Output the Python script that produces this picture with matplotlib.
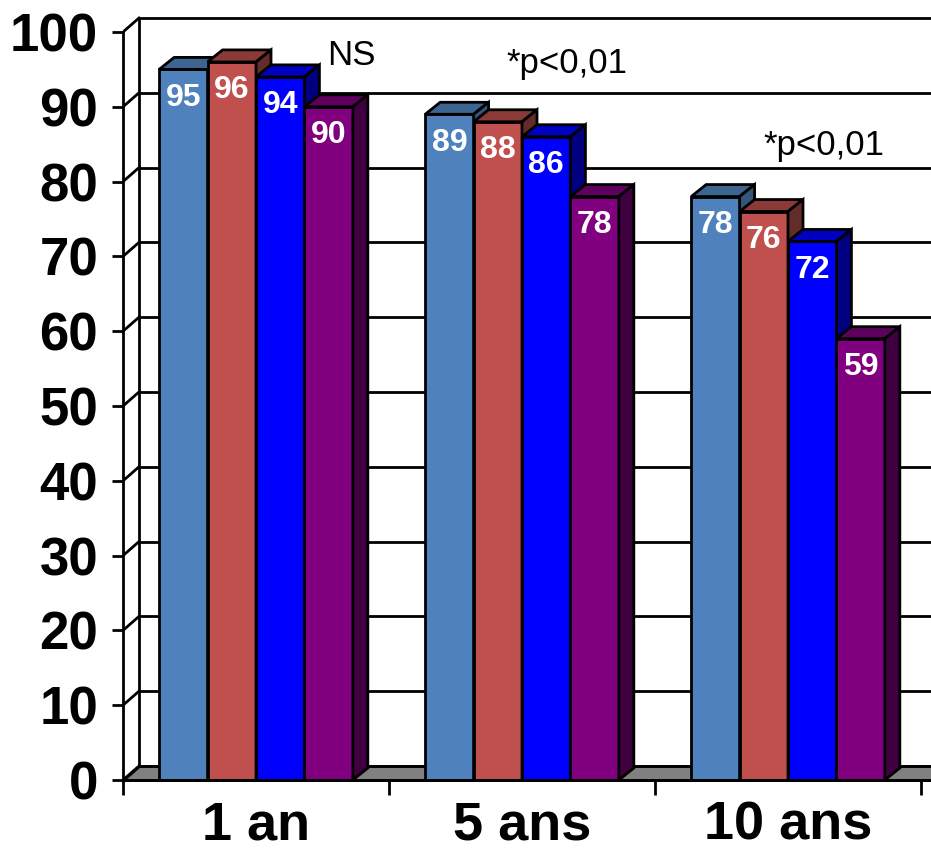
import matplotlib
matplotlib.use("Agg")
import matplotlib.pyplot as plt
from matplotlib.patches import Polygon
import numpy as np

# ---- data ----
categories = ["1 an", "5 ans", "10 ans"]
series_a = [95, 89, 78]   # light blue
series_b = [96, 88, 76]   # red
series_c = [94, 86, 72]   # blue
series_d = [90, 78, 59]   # purple
y_ticks = [0, 10, 20, 30, 40, 50, 60, 70, 80, 90, 100]
annotations = [("NS", 0.767, 95.6), ("*p<0,01", 1.44, 94.5), ("*p<0,01", 2.406, 83.6)]

front_colors = ["#4F81BD", "#C0504D", "#0000FF", "#800080"]
top_colors = ["#3D6591", "#8B3A38", "#0000C0", "#5E005E"]
side_colors = ["#35567C", "#632B29", "#000080", "#400040"]

W, H = 931, 858
fig = plt.figure(figsize=(W / 100, H / 100), dpi=100)
ax = fig.add_axes([123 / W, 78 / H, 808 / W, 780 / H])
ax.set_xlim(0, 808 / 266)
ax.set_ylim(0, 780 / 7.48)

FONT = "Liberation Sans"
LW = 2.0

# depth offsets (data units)
wdx, wdy = 16 / 266, 14 / 7.48   # walls
bdx, bdy = 15 / 266, 12 / 7.48   # bars
xmax = 808 / 266 + 0.2

# floor
ax.add_patch(Polygon([(0, 0), (xmax, 0), (xmax, wdy), (wdx, wdy)], closed=True,
                     facecolor="#808080", edgecolor="black", lw=LW, zorder=1, clip_on=False))
# back wall gridlines and left wall slants
for v in y_ticks:
    ax.plot([wdx, xmax], [v + wdy, v + wdy], color="black", lw=LW, zorder=1.5, solid_capstyle="butt")
    ax.plot([0, wdx], [v, v + wdy], color="black", lw=LW, zorder=1.5)
ax.plot([wdx, wdx], [wdy, 100 + wdy], color="black", lw=LW, zorder=1.5)

# bars
series = [series_a, series_b, series_c, series_d]
n = len(series)
bw = 0.182
centers = np.arange(len(categories)) + 0.5
for gi, c in enumerate(centers):
    left0 = c - n * bw / 2
    for si in range(n):
        v = series[si][gi]
        x0 = left0 + si * bw
        x1 = x0 + bw
        z = 3 + gi * 10 + si
        ax.bar(x0, v, width=bw, align="edge", color=front_colors[si], edgecolor="black",
               linewidth=LW, zorder=z)
        ax.add_patch(Polygon([(x0, v), (x1, v), (x1 + bdx, v + bdy), (x0 + bdx, v + bdy)],
                             closed=True, facecolor=top_colors[si], edgecolor="black",
                             lw=LW, zorder=z, joinstyle="miter"))
        ax.add_patch(Polygon([(x1, 0), (x1, v), (x1 + bdx, v + bdy), (x1 + bdx, bdy)],
                             closed=True, facecolor=side_colors[si], edgecolor="black",
                             lw=LW, zorder=z, joinstyle="miter"))
        ax.text(x0 + bw / 2, v - 3.8, str(v), color="white", ha="center", va="center",
                fontsize=23, fontweight="bold", family=FONT, zorder=z + 0.5)

for txt, x, y in annotations:
    ax.text(x, y, txt, fontsize=25, family=FONT, ha="left", va="baseline", zorder=50)

# axes / spines
for s in ["top", "right"]:
    ax.spines[s].set_visible(False)
ax.spines["left"].set_bounds(0, 100)
ax.spines["left"].set_linewidth(LW)
ax.spines["bottom"].set_linewidth(LW)
ax.spines["left"].set_zorder(60)
ax.spines["bottom"].set_zorder(60)

ax.set_yticks(y_ticks)
ax.set_yticklabels([str(t) for t in y_ticks], fontsize=38, fontweight="bold", family=FONT)
ax.tick_params(axis="y", length=8, width=LW, pad=10)

ax.set_xticks([0, 1, 2, 3])
ax.set_xticklabels([])
ax.tick_params(axis="x", which="major", length=11, width=LW, direction="out")
ax.set_xticks(centers, minor=True)
ax.set_xticklabels(categories, minor=True, fontsize=39, fontweight="bold", family=FONT)
ax.tick_params(axis="x", which="minor", length=0, pad=15)

fig.savefig("out.png", dpi=100)
